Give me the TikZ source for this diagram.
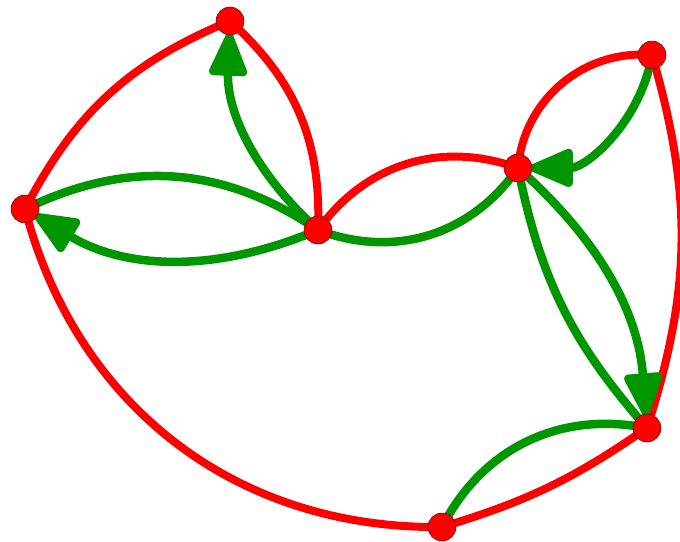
\documentclass[tikz,border=0pt]{standalone}
\usetikzlibrary{arrows.meta}
\definecolor{ered}{RGB}{255,0,0}
\definecolor{egreen}{RGB}{0,150,0}
\begin{document}
\begin{tikzpicture}[x=1pt,y=-1pt,
  vtx/.style={circle,fill=ered,draw=black!60!red,line width=0.5pt,minimum size=28pt,inner sep=0pt},
  redge/.style={draw=ered,line width=8pt},
  gedge/.style={draw=egreen,line width=8.5pt},
  garrow/.style={gedge,-{Triangle[length=50pt,width=40pt,round]}}]
\useasboundingbox (0,0) rectangle (680,541);
\clip (0,0) rectangle (680,541);
\coordinate (pA) at (230,21);
\coordinate (pB) at (652,55);
\coordinate (pC) at (518,168);
\coordinate (pD) at (25,209);
\coordinate (pE) at (318,230);
\coordinate (pF) at (647,428);
\coordinate (pG) at (442,527);
% red edges
\draw[redge] (pD) to[bend left=20] (pA);
\draw[redge] (pE) to[bend right=25] (pA);
\draw[redge] (pE) to[bend left=37] (pC);
\draw[redge] (pC) to[bend left=45] (pB);
\draw[redge] (pB) to[bend left=17] (pF);
\draw[redge] (pF) to[bend left=9] (pG);
\draw[redge] (pG) to[bend left=38] (pD);
% green edges
\draw[gedge] (pE) to[bend right=30] (pD);
\draw[gedge] (pE) to[bend right=38] (pC);
\draw[gedge] (pC) to[bend right=15] (pF);
\draw[gedge] (pG) to[bend left=37] (pF);
\draw[garrow, shorten >=12pt] (pE) to[bend left=25] (pA);
\draw[garrow, shorten >=12pt] (pE) to[bend left=27] (pD);
\draw[garrow, shorten >=12pt] (pB) to[bend left=40] (pC);
\draw[garrow, shorten >=12pt] (pC) to[bend left=22] (pF);
% vertices
\node[vtx] (A) at (pA) {};
\node[vtx] (B) at (pB) {};
\node[vtx] (C) at (pC) {};
\node[vtx] (D) at (pD) {};
\node[vtx] (E) at (pE) {};
\node[vtx] (F) at (pF) {};
\node[vtx] (G) at (pG) {};
\end{tikzpicture}
\end{document}
